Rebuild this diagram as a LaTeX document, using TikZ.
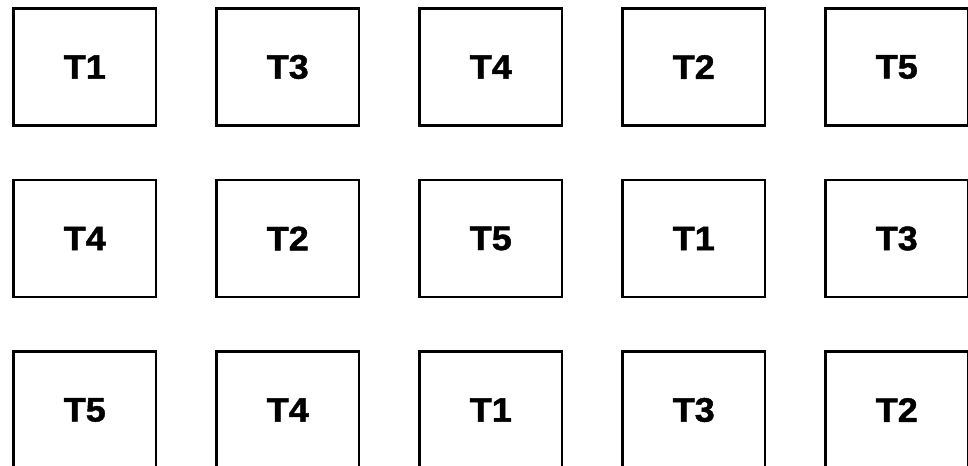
\documentclass[tikz,border=0pt]{standalone}
\usepackage{fontspec}
\setmainfont{Liberation Sans}
\newfontfamily\heavyfont[BoldFeatures={FakeBold=1.3,FakeStretch=1.06}]{Liberation Sans}

\begin{document}
\begin{tikzpicture}[x=0.75pt,y=-0.75pt,
  slot/.style={draw,line width=2.2pt,minimum width=106.9pt,minimum height=87.75pt,
    inner sep=0pt,font=\fontsize{25.5}{30}\heavyfont\bfseries}]
\useasboundingbox (0,0) rectangle (968,466);
% ================ row 1 ================
\foreach \lab [count=\i] in {T1,T3,T4,T2,T5}
  \node[slot] (r1c\i) at ({84.75+203*(\i-1)},67) {\lab};
% ================ row 2 ================
\foreach \lab [count=\i] in {T4,T2,T5,T1,T3}
  \node[slot] (r2c\i) at ({84.75+203*(\i-1)},238.5) {\lab};
% ================ row 3 (cut by the lower edge) ================
\foreach \lab [count=\i] in {T5,T4,T1,T3,T2}
  \node[slot] (r3c\i) at ({84.75+203*(\i-1)},410) {\lab};
\end{tikzpicture}
\end{document}
